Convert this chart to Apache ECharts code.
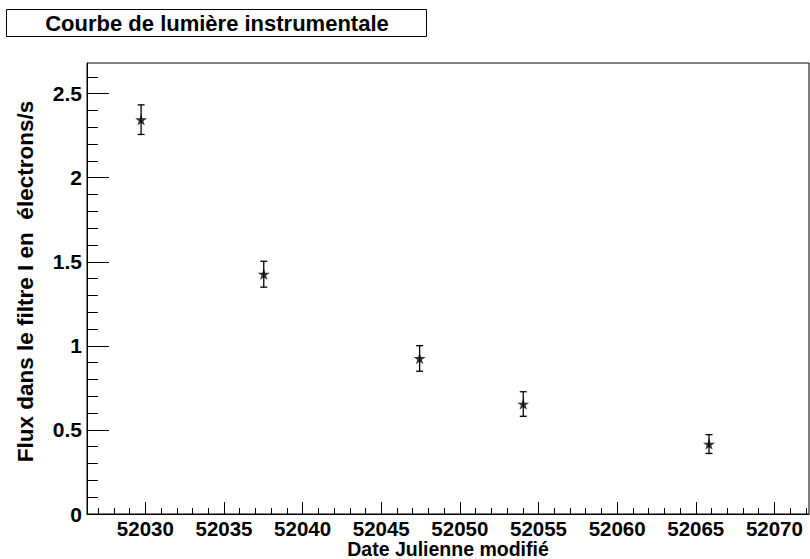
<!DOCTYPE html>
<html>
<head>
<meta charset="utf-8">
<script src="https://cdn.jsdelivr.net/npm/echarts@6/dist/echarts.min.js"></script>
<style>
html,body{margin:0;padding:0;background:#fff;}
#chart{width:810px;height:559px;}
</style>
</head>
<body>
<div id="chart"></div>
<script>
// ---- data ----
const titleText = "Courbe de lumière instrumentale";
const xTitle = "Date Julienne modifié";
const yTitle = "Flux dans le filtre I en  électrons/s";
const mjd  = [52029.73, 52037.53, 52047.44, 52054.03, 52065.84];
const flux = [2.345, 1.426, 0.925, 0.654, 0.416];
const fluxErr = [0.088, 0.077, 0.076, 0.073, 0.056];
const xTicks = [52030, 52035, 52040, 52045, 52050, 52055, 52060, 52065, 52070];
const yTicks = [0, 0.5, 1, 1.5, 2, 2.5];
const X_MIN = 52026.29, X_MAX = 52072.2;
const Y_MIN = 0, Y_MAX = 2.682;

// minor ticks
const xMinor = [];
for (let v = 52027; v <= 52072; v++) if (v % 5 !== 0) xMinor.push(v);
const yMinor = [];
for (let i = 1; i <= 26; i++) if (i % 5 !== 0) yMinor.push(+(i * 0.1).toFixed(1));

const FONT = '"Liberation Sans", Arial, Helvetica, sans-serif';
const chart = echarts.init(document.getElementById('chart'), null, {renderer: 'svg'});

const starPath = 'path://M0,-10L2.245,-3.09L9.511,-3.09L3.633,1.18L5.878,8.09L0,3.82L-5.878,8.09L-3.633,1.18L-9.511,-3.09L-2.245,-3.09Z';

const pts = mjd.map((x, i) => [x, flux[i], fluxErr[i]]);

chart.setOption({
  animation: false,
  backgroundColor: '#fff',
  textStyle: {fontFamily: FONT},
  graphic: [
    {type: 'rect', shape: {x: 6.5, y: 9.5, width: 420, height: 27}, style: {fill: '#fff', stroke: '#000', lineWidth: 1}, z: 10},
    {type: 'text', x: 217, y: 23, z: 11, style: {text: titleText, fontFamily: FONT, fontWeight: 'bold', fontSize: 22, fill: '#000', align: 'center', verticalAlign: 'middle'}}
  ],
  grid: {left: 87, top: 63, right: 1, bottom: 45, outerBoundsMode: 'none', containLabel: false, show: true, borderColor: '#000', borderWidth: 1, backgroundColor: 'transparent'},
  xAxis: [
    {
      type: 'value', min: X_MIN, max: X_MAX, position: 'bottom',
      name: xTitle, nameLocation: 'middle', nameGap: 25, nameMoveOverlap: false,
      nameTextStyle: {fontFamily: FONT, fontWeight: 'bold', fontSize: 19.5, color: '#000'},
      axisLine: {show: true, lineStyle: {color: '#000', width: 1}},
      axisTick: {show: true, inside: true, length: 12, customValues: xTicks, lineStyle: {color: '#000', width: 1}},
      axisLabel: {show: true, customValues: xTicks, margin: 4, fontFamily: FONT, fontWeight: 'bold', fontSize: 20.5, color: '#000', formatter: v => String(v)},
      splitLine: {show: false}
    },
    {
      type: 'value', min: X_MIN, max: X_MAX, position: 'bottom',
      axisLine: {show: false},
      axisTick: {show: true, inside: true, length: 6, customValues: xMinor, lineStyle: {color: '#000', width: 1}},
      axisLabel: {show: false},
      splitLine: {show: false}
    }
  ],
  yAxis: [
    {
      type: 'value', min: Y_MIN, max: Y_MAX, position: 'left',
      name: yTitle, nameLocation: 'middle', nameGap: 50, nameRotate: 90,
      nameTextStyle: {fontFamily: FONT, fontWeight: 'bold', fontSize: 22.5, color: '#000', padding: [0, 0, 0, 14]},
      axisLine: {show: true, lineStyle: {color: '#000', width: 1}},
      axisTick: {show: true, inside: true, length: 22, customValues: yTicks, lineStyle: {color: '#000', width: 1}},
      axisLabel: {show: true, customValues: yTicks, margin: 5, fontFamily: FONT, fontWeight: 'bold', fontSize: 21, color: '#000', formatter: v => String(v)},
      splitLine: {show: false}
    },
    {
      type: 'value', min: Y_MIN, max: Y_MAX, position: 'left',
      axisLine: {show: false},
      axisTick: {show: true, inside: true, length: 11, customValues: yMinor, lineStyle: {color: '#000', width: 1}},
      axisLabel: {show: false},
      splitLine: {show: false}
    }
  ],
  series: [
    {
      type: 'custom', xAxisIndex: 0, yAxisIndex: 0, z: 3,
      data: pts,
      renderItem: function (params, api) {
        const x = api.value(0), y = api.value(1), e = api.value(2);
        const top = api.coord([x, y + e]);
        const bot = api.coord([x, y - e]);
        const hw = 3.5;
        const st = {stroke: '#000', lineWidth: 1.3};
        return {
          type: 'group',
          children: [
            {type: 'line', shape: {x1: top[0], y1: top[1], x2: bot[0], y2: bot[1]}, style: st},
            {type: 'line', shape: {x1: top[0] - hw, y1: top[1], x2: top[0] + hw, y2: top[1]}, style: st},
            {type: 'line', shape: {x1: bot[0] - hw, y1: bot[1], x2: bot[0] + hw, y2: bot[1]}, style: st}
          ]
        };
      }
    },
    {
      type: 'scatter', xAxisIndex: 0, yAxisIndex: 0, z: 4,
      data: pts.map(p => [p[0], p[1]]),
      symbol: starPath, symbolSize: 12, symbolKeepAspect: true,
      itemStyle: {color: '#000'}
    }
  ]
});
</script>
</body>
</html>
